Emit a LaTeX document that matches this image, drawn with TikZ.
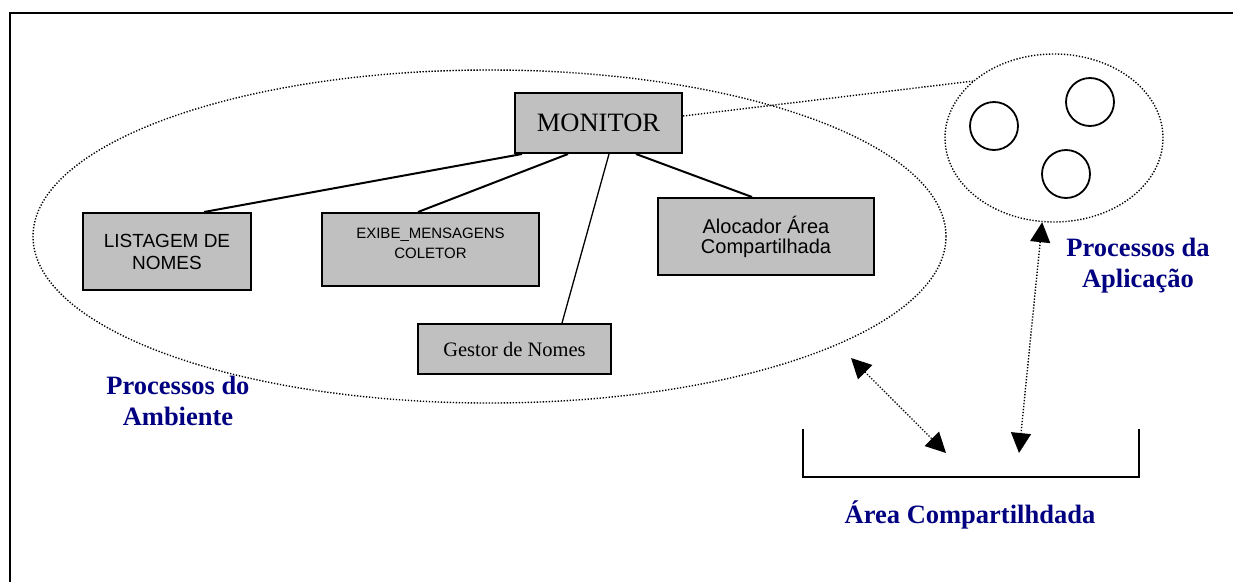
\documentclass[tikz,border=0pt]{standalone}
\usepackage{fontspec}
\setmainfont{Liberation Serif}
\newfontfamily\arialf{Liberation Sans}
\usetikzlibrary{shapes.geometric,arrows.meta,calc}
\definecolor{navyblue}{RGB}{0,0,128}
\definecolor{boxgray}{RGB}{192,192,192}
\tikzset{
  procbox/.style={draw=black, fill=boxgray, line width=2pt, inner sep=0pt, align=center},
  dotline/.style={line width=1.4pt, dash pattern=on 1.3pt off 1.7pt},
  conn/.style={line width=2pt},
  thinconn/.style={line width=1.3pt},
  bigtip/.style={{Triangle[length=20pt,width=20pt]}-{Triangle[length=20pt,width=20pt]}},
  proc/.style={draw, circle, line width=1.8pt, minimum size=48pt, inner sep=0pt},
  lbl/.style={text=navyblue, font=\fontsize{26.5}{31}\selectfont\bfseries, align=center, inner sep=0pt}
}
\begin{document}
\begin{tikzpicture}[x=1pt,y=-1pt]
\useasboundingbox (0,0) rectangle (1233,581);
% frame
\draw[line width=2.5pt] (10,585) -- (10,13) -- (1240,13);
% ellipses
\node[ellipse, draw, dotline, minimum width=913pt, minimum height=333pt, inner sep=0pt] (env) at (489.5,236.5) {};
\node[ellipse, draw, dotline, minimum width=218pt, minimum height=168pt, inner sep=0pt] (app) at (1054,138) {};
% application processes
\node[proc] (p1) at (994,126) {};
\node[proc] (p2) at (1090,102) {};
\node[proc] (p3) at (1066,174) {};
% boxes
\node[procbox, minimum width=167pt, minimum height=60pt, font=\fontsize{26.5}{30}\selectfont] (mon) at (598.5,123) {MONITOR};
\node[procbox, minimum width=168pt, minimum height=77pt, font=\arialf\fontsize{19}{22}\selectfont] (list) at (167,251.5) {LISTAGEM DE\\NOMES};
\node[procbox, minimum width=217pt, minimum height=73pt] (exibe) at (430.5,249.5) {};
\node[align=center, inner sep=0pt, font=\arialf\fontsize{15}{20}\selectfont] (exibetxt) at (430.5,243) {EXIBE\_MENSAGENS\\COLETOR};
\node[procbox, minimum width=216pt, minimum height=77pt, font=\arialf\fontsize{20}{20}\selectfont] (aloc) at (766,236.5) {Alocador Área\\Compartilhada};
\node[procbox, minimum width=193pt, minimum height=50pt, font=\fontsize{20.5}{24}\selectfont] (gest) at (514.5,349) {Gestor de Nomes};
% connectors
\draw[conn] ($(mon.south west)+(8,0)$) -- ($(list.north west)+(122,0)$);
\draw[conn] ($(mon.south west)+(54,0)$) -- ($(exibe.north west)+(97,0)$);
\draw[thinconn] ($(mon.south west)+(95,0)$) -- ($(gest.north west)+(145,0)$);
\draw[conn] ($(mon.south west)+(122,0)$) -- ($(aloc.north west)+(95,0)$);
\draw[dotline] ($(mon.east)+(0,-7)$) -- (app.145);
% shared area bracket
\coordinate (btl) at (803,429);
\coordinate (btr) at (1139,429);
\draw[line width=2pt] (btl) -- (803,477) -- (1139,477) -- (btr);
% arrows
\coordinate (a1s) at (851,358);
\coordinate (a1e) at (946,453);
\coordinate (a2e) at (1019,453);
\draw[dotline, bigtip] (a1s) -- (a1e);
\draw[dotline, bigtip] (app.262) -- (a2e);
% labels
\node[lbl] (lamb) at (178,401) {Processos do\\Ambiente};
\node[lbl] (lapp) at (1138,266) {Processos da\\Aplicação};
\node[lbl, anchor=base] (lshared) at (970,523) {Área Compartilhdada};
\end{tikzpicture}
\end{document}
